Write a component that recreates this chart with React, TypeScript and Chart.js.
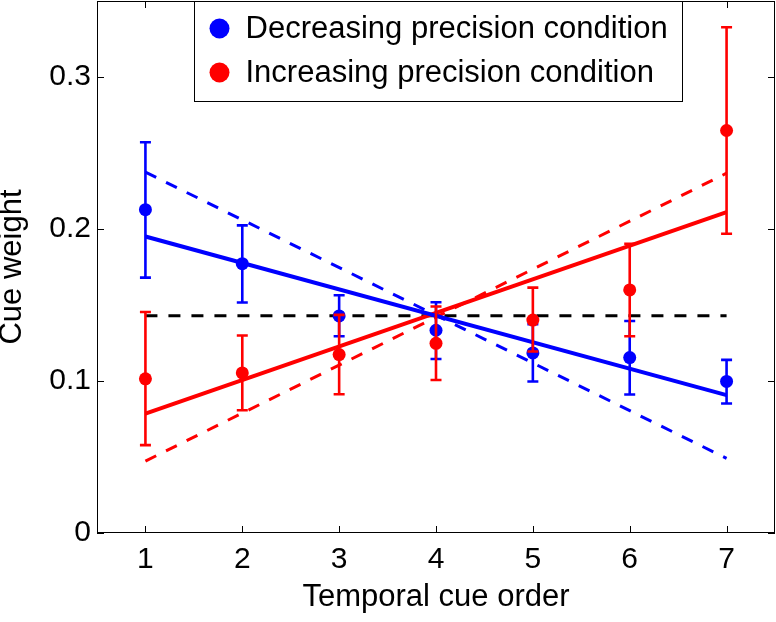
import React, { useEffect, useRef } from 'react';
import { Chart, registerables } from 'chart.js';

Chart.register(...registerables);

const FONT = '"Liberation Sans", Arial, Helvetica, sans-serif';
const BLUE = '#0000ff';
const RED = '#ff0000';

const cueOrder = [1, 2, 3, 4, 5, 6, 7];
const decMean = [0.2127, 0.1772, 0.1428, 0.1334, 0.1185, 0.1154, 0.0997];
const decUpper = [0.2571, 0.2024, 0.1564, 0.1518, 0.1373, 0.1395, 0.1139];
const decLower = [0.168, 0.1516, 0.1294, 0.1145, 0.0997, 0.0911, 0.0852];
const incMean = [0.1014, 0.1053, 0.1174, 0.1248, 0.1401, 0.1599, 0.2648];
const incUpper = [0.1454, 0.1299, 0.1435, 0.149, 0.1614, 0.1903, 0.3327];
const incLower = [0.0578, 0.0808, 0.0913, 0.1007, 0.1194, 0.1294, 0.1969];

const fitX = [1, 7];
const decFit = [0.1951, 0.0907];
const incFit = [0.0786, 0.2111];
const decOptimal = [0.2374, 0.0491];
const incOptimal = [0.0473, 0.2367];
const equalWeight = [0.1429, 0.1429];

const xTickValues = [1, 2, 3, 4, 5, 6, 7];
const yTickValues = [0, 0.1, 0.2, 0.3];
const yTickLabels = ['0', '0.1', '0.2', '0.3'];

const xTitle = 'Temporal cue order';
const yTitle = 'Cue weight';
const decLabel = 'Decreasing precision condition';
const incLabel = 'Increasing precision condition';

export default function App() {
  const ref = useRef<HTMLCanvasElement>(null);

  useEffect(() => {
    document.body.style.margin = '0';
    const canvas = ref.current!;

    const series = [
      { mean: decMean, upper: decUpper, lower: decLower, color: BLUE },
      { mean: incMean, upper: incUpper, lower: incLower, color: RED },
    ];

    const errorBars = {
      id: 'errorBars',
      beforeDatasetDraw(chart: any, args: any) {
        if (args.index > 1) return;
        const s = series[args.index];
        const { ctx, scales } = chart;
        const xs = scales.x;
        const ys = scales.y;
        ctx.save();
        ctx.strokeStyle = s.color;
        ctx.lineWidth = 2.6;
        ctx.lineCap = 'butt';
        const cap = 5.5;
        cueOrder.forEach((xv, i) => {
          const px = xs.getPixelForValue(xv);
          const pt = ys.getPixelForValue(s.upper[i]);
          const pb = ys.getPixelForValue(s.lower[i]);
          ctx.beginPath();
          ctx.moveTo(px, pt);
          ctx.lineTo(px, pb);
          ctx.moveTo(px - cap, pt);
          ctx.lineTo(px + cap, pt);
          ctx.moveTo(px - cap, pb);
          ctx.lineTo(px + cap, pb);
          ctx.stroke();
        });
        ctx.restore();
      },
    };

    const frame = {
      id: 'frame',
      afterDraw(chart: any) {
        const { ctx, chartArea, scales } = chart;
        const { left, right, top, bottom } = chartArea;
        ctx.save();
        ctx.strokeStyle = '#000';
        ctx.lineWidth = 1;
        ctx.strokeRect(Math.round(left) + 0.5, Math.round(top) + 0.5, Math.round(right - left) - 1, Math.round(bottom - top) - 1);
        const tl = 7;
        ctx.beginPath();
        xTickValues.forEach((v) => {
          const px = Math.round(scales.x.getPixelForValue(v)) + 0.5;
          ctx.moveTo(px, bottom);
          ctx.lineTo(px, bottom - tl);
          ctx.moveTo(px, top);
          ctx.lineTo(px, top + tl);
        });
        yTickValues.forEach((v) => {
          const py = Math.round(scales.y.getPixelForValue(v)) + 0.5;
          ctx.moveTo(left, py);
          ctx.lineTo(left + tl, py);
          ctx.moveTo(right, py);
          ctx.lineTo(right - tl, py);
        });
        ctx.stroke();

        // legend box
        const bx = Math.round(left + 97) + 0.5;
        const by = Math.round(top) + 0.5;
        const bw = 488;
        const bh = 100;
        ctx.fillStyle = '#fff';
        ctx.fillRect(bx, by, bw, bh);
        ctx.strokeRect(bx, by, bw, bh);
        const ds = chart.data.datasets;
        [0, 1].forEach((k) => {
          const cy = by + 27 + k * 44;
          ctx.beginPath();
          ctx.fillStyle = ds[k].backgroundColor;
          ctx.arc(bx + 25, cy, 10, 0, Math.PI * 2);
          ctx.fill();
          ctx.fillStyle = '#000';
          ctx.font = `31px ${FONT}`;
          ctx.textBaseline = 'middle';
          ctx.textAlign = 'left';
          ctx.fillText(ds[k].label, bx + 51, cy + 1);
        });
        ctx.restore();
      },
    };

    const pts = (ys: number[], xsArr: number[]) => xsArr.map((x, i) => ({ x, y: ys[i] }));

    const chart = new Chart(canvas, {
      type: 'scatter',
      data: {
        datasets: [
          {
            label: decLabel,
            data: pts(decMean, cueOrder),
            backgroundColor: BLUE,
            borderWidth: 0,
            pointRadius: 6.5,
            order: 1,
          },
          {
            label: incLabel,
            data: pts(incMean, cueOrder),
            backgroundColor: RED,
            borderWidth: 0,
            pointRadius: 6.5,
            order: 0,
          },
          {
            label: 'decFit',
            data: pts(decFit, fitX),
            showLine: true,
            borderColor: BLUE,
            borderWidth: 4,
            pointRadius: 0,
            order: 2,
          },
          {
            label: 'decOptimal',
            data: pts(decOptimal, fitX),
            showLine: true,
            borderColor: BLUE,
            borderWidth: 3,
            borderDash: [12, 11],
            pointRadius: 0,
            order: 2,
          },
          {
            label: 'incFit',
            data: pts(incFit, fitX),
            showLine: true,
            borderColor: RED,
            borderWidth: 4,
            pointRadius: 0,
            order: 2,
          },
          {
            label: 'incOptimal',
            data: pts(incOptimal, fitX),
            showLine: true,
            borderColor: RED,
            borderWidth: 3,
            borderDash: [12, 11],
            pointRadius: 0,
            order: 2,
          },
          {
            label: 'equal',
            data: pts(equalWeight, fitX),
            showLine: true,
            borderColor: '#000',
            borderWidth: 3,
            borderDash: [12, 11],
            pointRadius: 0,
            order: 2,
          },
        ] as any,
      },
      options: {
        animation: false,
        responsive: false,
        maintainAspectRatio: false,
        layout: { autoPadding: false, padding: { top: 1, right: 1, left: 0, bottom: 0 } },
        plugins: {
          legend: { display: false },
          tooltip: { enabled: false },
        },
        scales: {
          x: {
            type: 'linear',
            min: 0.5,
            max: 7.5,
            afterBuildTicks: (s: any) => {
              s.ticks = xTickValues.map((v) => ({ value: v }));
            },
            afterFit: (s: any) => {
              s.height = 89;
              s.paddingLeft = 0;
              s.paddingRight = 0;
            },
            grid: { display: false, drawTicks: false },
            border: { display: false },
            ticks: {
              color: '#000',
              font: { family: FONT, size: 30 },
              padding: 9,
              maxRotation: 0,
              autoSkip: false,
            },
            title: {
              display: true,
              text: xTitle,
              color: '#000',
              font: { family: FONT, size: 31 },
              padding: { top: 0, bottom: 6 },
            },
          },
          y: {
            type: 'linear',
            min: 0,
            max: 0.35,
            afterBuildTicks: (s: any) => {
              s.ticks = yTickValues.map((v) => ({ value: v }));
            },
            afterFit: (s: any) => {
              s.width = 97;
              s.paddingTop = 0;
              s.paddingBottom = 0;
            },
            grid: { display: false, drawTicks: false },
            border: { display: false },
            ticks: {
              color: '#000',
              font: { family: FONT, size: 30 },
              padding: 6,
              autoSkip: false,
              callback: (v: any) => {
                const idx = yTickValues.indexOf(Number(v));
                return idx >= 0 ? yTickLabels[idx] : '';
              },
            },
            title: {
              display: true,
              text: yTitle,
              color: '#000',
              font: { family: FONT, size: 31, lineHeight: 1 },
              padding: { top: -3, bottom: 0 },
            },
          },
        },
      },
      plugins: [errorBars, frame],
    });

    return () => chart.destroy();
  }, []);

  return (
    <div style={{ width: 776, height: 622 }}>
      <canvas ref={ref} width={776} height={622} style={{ display: 'block' }} />
    </div>
  );
}
